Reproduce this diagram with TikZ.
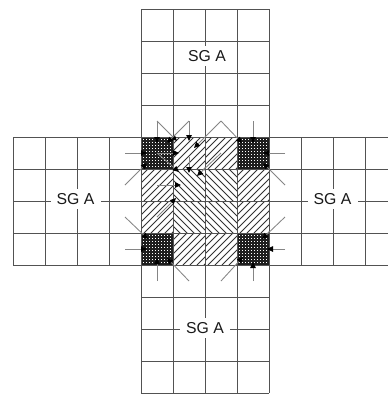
\documentclass[tikz,border=0pt]{standalone}
\usepackage{fontspec}
\setmainfont{Liberation Sans}
\usetikzlibrary{arrows.meta}
\tikzset{
  gridline/.style={draw=black!68,line width=0.95pt},
  hatchline/.style={draw=black!80,line width=0.95pt},
  link/.style={draw=black!48,line width=0.85pt,-{Triangle[length=6pt,width=5.5pt,fill=black,color=black]}},
  sglabel/.style={fill=white,inner sep=0pt,minimum width=50pt,minimum height=20pt,text=black!90,font=\fontsize{15.8}{16}\selectfont}
}
\newcommand{\hatchup}[2]{% cell top-left corner, / lines
  \begin{scope}
    \clip (#1,#2) rectangle ++(32,32);
    \foreach \k in {0,...,10}{\draw[hatchline] ({#1+\k*7-32},#2+32) -- ++(34,-34);}
  \end{scope}}
\newcommand{\hatchdown}[2]{% cell top-left corner, \ lines
  \begin{scope}
    \clip (#1,#2) rectangle ++(32,32);
    \foreach \k in {0,...,10}{\draw[hatchline] ({#1+\k*7-32},#2) -- ++(34,34);}
  \end{scope}}
\newcommand{\dotcell}[2]{%
  \fill[black!88] (#1,#2) rectangle ++(32,32);
  \foreach \i in {0,...,9}{\foreach \j in {0,...,9}{
    \fill[white] ({#1+\i*3+1.6},{#2+\j*3+1.6}) rectangle ++(1.15,1.15);}}}
\begin{document}
\begin{tikzpicture}[x=1pt,y=-1pt]
\useasboundingbox (0,0) rectangle (388,394);
\clip (0,0) rectangle (388,394);
\fill[white] (0,0) rectangle (388,394);
% centre cells
\dotcell{141}{137}\dotcell{237}{137}\dotcell{141}{233}\dotcell{237}{233}
\hatchup{173}{137}\hatchup{205}{137}
\hatchup{141}{169}\hatchdown{173}{169}\hatchdown{205}{169}\hatchup{237}{169}
\hatchup{141}{201}\hatchdown{173}{201}\hatchdown{205}{201}\hatchup{237}{201}
\hatchup{173}{233}\hatchup{205}{233}
% grid
\foreach \x in {141,173,205,237,269}{\draw[gridline] (\x,9.3) -- (\x,393);}
\foreach \y in {9.3,41.3,73.3,105.3}{\draw[gridline] (141,\y) -- (269,\y);}
\foreach \y in {297,329,361,393}{\draw[gridline] (141,\y) -- (269,\y);}
\foreach \y in {137,169,201,233,265}{\draw[gridline] (13.3,\y) -- (388,\y);}
\foreach \x in {13.3,45.3,77.3,109.3,301,333,365}{\draw[gridline] (\x,137) -- (\x,265);}
% connectors
\foreach \a/\b/\c/\d in {
  157/121/177/141, 157/121/157/143, 189/121/189/141, 189/121/167/143,
  221/121/194/148, 221/121/242/143, 253/121/253/143,
  125/153/147/153, 157/153/179/153, 157/153/179/172, 189/157/189/173, 221/153/197/176,
  285/153/263/153, 285/185/263/163, 125/185/147/163,
  157/185/181/185, 157/217/176/198,
  125/217/148/239, 285/217/262/239,
  125/249/147/249, 285/249/267/249,
  157/281/157/258, 189/281/167/258, 221/281/243/257, 253/281/253/262}{
  \draw[link] (\a,\b) -- (\c,\d);
}
% labels
\node[sglabel] (top) at (207,55.7) {SG A};
\node[sglabel] (left) at (75.5,199) {SG A};
\node[sglabel] (right) at (332.5,199) {SG A};
\node[sglabel] (bottom) at (205,328) {SG A};
\end{tikzpicture}
\end{document}
